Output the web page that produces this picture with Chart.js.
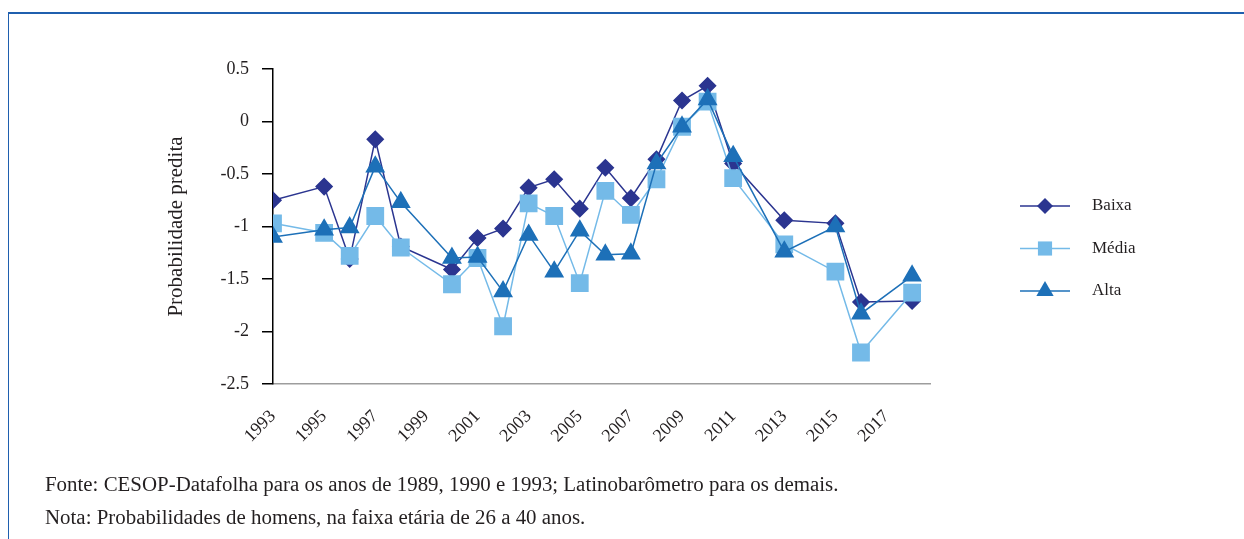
<!DOCTYPE html>
<html>
<head>
<meta charset="utf-8">
<script src="https://cdn.jsdelivr.net/npm/chart.js@4"></script>
<style>
  html, body { margin: 0; padding: 0; background: #fff; }
  body { width: 1244px; height: 539px; position: relative; overflow: hidden; }
  #moldura { position: absolute; left: 8px; top: 12px; right: -5px; bottom: -5px;
             border-top: 2px solid #1f5fae; border-left: 1.5px solid #1f5fae; }
  #grafico { position: absolute; left: 0; top: 0; }
  .nota { position: absolute; left: 45px; font-family: "Liberation Serif", serif;
          font-size: 20px; color: #231f20; white-space: nowrap;
          transform: scaleX(1.045); transform-origin: left center; }
</style>
</head>
<body>
<div id="moldura"></div>
<canvas id="grafico" width="1244" height="539"></canvas>
<div class="nota" style="top:473px">Fonte: CESOP-Datafolha para os anos de 1989, 1990 e 1993; Latinobarômetro para os demais.</div>
<div class="nota" style="top:506px">Nota: Probabilidades de homens, na faixa etária de 26 a 40 anos.</div>
<script>
// anos das pesquisas
const anos = [1993, 1995, 1996, 1997, 1998, 2000, 2001, 2002, 2003, 2004, 2005,
              2006, 2007, 2008, 2009, 2010, 2011, 2013, 2015, 2016, 2018];

// valores
const baixa = [-0.75, -0.62, -1.31, -0.17, -1.19, -1.41, -1.11, -1.02, -0.63, -0.55, -0.83,
               -0.44, -0.73, -0.36, 0.20, 0.34, -0.40, -0.94, -0.97, -1.72, -1.71];
const media = [-0.97, -1.06, -1.28, -0.90, -1.20, -1.55, -1.30, -1.95, -0.78, -0.90, -1.54,
               -0.66, -0.89, -0.55, -0.05, 0.19, -0.54, -1.17, -1.43, -2.20, -1.63];
const alta  = [-1.10, -1.03, -1.01, -0.43, -0.77, -1.30, -1.29, -1.62, -1.08, -1.43, -1.04,
               -1.27, -1.26, -0.40, -0.05, 0.21, -0.33, -1.24, -1.00, -1.83, -1.47];

// rotulos dos eixos
const xTicks = [1993, 1995, 1997, 1999, 2001, 2003, 2005, 2007, 2009, 2011, 2013, 2015, 2017];
const yTicks = [0.5, 0, -0.5, -1, -1.5, -2, -2.5];

const FONTE = '"Liberation Serif", "Times New Roman", serif';
const COR_TEXTO = '#231f20';

const pontos = (vals) => anos.map((a, i) => ({ x: a, y: vals[i] }));

// desenha o marcador no estilo do Chart.js (para a legenda)
function marcador(ctx, estilo, r, x, y) {
    ctx.beginPath();
    if (estilo === 'rectRot') {
        ctx.moveTo(x - r, y); ctx.lineTo(x, y - r); ctx.lineTo(x + r, y); ctx.lineTo(x, y + r);
    } else if (estilo === 'rect') {
        const s = Math.SQRT1_2 * r;
        ctx.rect(x - s, y - s, 2 * s, 2 * s);
    } else {
        ctx.moveTo(x, y - r);
        ctx.lineTo(x + Math.sin(2 * Math.PI / 3) * r, y + r / 2);
        ctx.lineTo(x - Math.sin(2 * Math.PI / 3) * r, y + r / 2);
    }
    ctx.closePath();
    ctx.fill();
}

// legenda com linha + marcador, a direita da area do grafico
const legendaLinha = {
    id: 'legendaLinha',
    afterDraw(chart) {
        const { ctx, chartArea } = chart;
        const x0 = chartArea.right + 90;
        chart.data.datasets.forEach((ds, i) => {
            const y = chartArea.top + 137 + i * 42.5;
            ctx.save();
            ctx.strokeStyle = ds.borderColor;
            ctx.lineWidth = 1.5;
            ctx.beginPath();
            ctx.moveTo(x0, y);
            ctx.lineTo(x0 + 50, y);
            ctx.stroke();
            ctx.fillStyle = ds.pointBackgroundColor;
            marcador(ctx, ds.pointStyle, ds.legendRadius, x0 + 25, y);
            ctx.fillStyle = COR_TEXTO;
            ctx.font = '17px ' + FONTE;
            ctx.textBaseline = 'middle';
            ctx.fillText(ds.label, x0 + 72, y);
            ctx.restore();
        });
    }
};

new Chart(document.getElementById('grafico'), {
    type: 'line',
    data: {
        datasets: [
            {
                label: 'Baixa',
                data: pontos(baixa),
                borderColor: '#2b3590',
                pointBackgroundColor: '#2b3590',
                pointBorderColor: '#2b3590',
                borderWidth: 1.5,
                pointStyle: 'rectRot',
                pointRadius: 8,
                legendRadius: 8,
                order: 3
            },
            {
                label: 'Média',
                data: pontos(media),
                borderColor: '#74bae8',
                pointBackgroundColor: '#74bae8',
                pointBorderColor: '#74bae8',
                borderWidth: 1.5,
                pointStyle: 'rect',
                pointRadius: 11.5,
                legendRadius: 10,
                order: 2
            },
            {
                label: 'Alta',
                data: pontos(alta),
                borderColor: '#1d70b8',
                pointBackgroundColor: '#1d70b8',
                pointBorderColor: '#1d70b8',
                borderWidth: 1.5,
                pointStyle: 'triangle',
                pointRadius: 10,
                legendRadius: 10,
                order: 1
            }
        ]
    },
    options: {
        responsive: false,
        animation: false,
        layout: { padding: { left: 160, right: 314, top: 69, bottom: 95 } },
        plugins: { legend: { display: false }, tooltip: { enabled: false } },
        elements: { line: { tension: 0 }, point: { borderWidth: 1 } },
        scales: {
            x: {
                type: 'linear',
                min: 1993,
                max: 2018.7,
                afterBuildTicks: (s) => { s.ticks = xTicks.map(v => ({ value: v })); },
                afterFit: (s) => { s.height = 60; },
                grid: { display: false },
                border: { color: '#9d9d9d', width: 1.5 },
                ticks: {
                    autoSkip: false,
                    maxRotation: 45,
                    minRotation: 45,
                    padding: 14,
                    color: COR_TEXTO,
                    font: { family: FONTE, size: 18 },
                    callback: (v) => String(v)
                }
            },
            y: {
                min: -2.5,
                max: 0.5,
                afterBuildTicks: (s) => { s.ticks = yTicks.map(v => ({ value: v })); },
                afterFit: (s) => { s.width = 113; },
                grid: { drawOnChartArea: false, drawTicks: true, tickLength: 11, color: '#000', lineWidth: 1.5 },
                border: { color: '#000', width: 1.5 },
                ticks: {
                    padding: 13,
                    color: COR_TEXTO,
                    font: { family: FONTE, size: 18 },
                    callback: (v) => String(v)
                },
                title: {
                    display: true,
                    text: 'Probabilidade predita',
                    color: COR_TEXTO,
                    font: { family: FONTE, size: 21 }
                }
            }
        }
    },
    plugins: [legendaLinha]
});
</script>
</body>
</html>
